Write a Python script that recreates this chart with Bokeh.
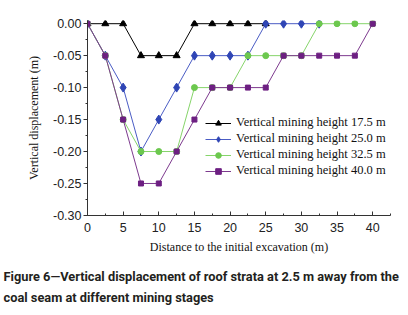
from bokeh.plotting import figure
from bokeh.models import (Legend, LegendItem, FixedTicker, NumeralTickFormatter,
                          Title, Range1d)
from bokeh.embed import file_html
from bokeh.resources import INLINE

# ---- data ----
x_all = [0, 2.5, 5, 7.5, 10, 12.5, 15, 17.5, 20, 22.5, 25, 27.5, 30, 32.5, 35, 37.5, 40]
h175 = [0, 0, 0, -0.05, -0.05, -0.05, 0, 0, 0, 0, 0]
h250 = [0, -0.05, -0.10, -0.20, -0.15, -0.10, -0.05, -0.05, -0.05, -0.05, 0, 0, 0, 0]
h325 = [0, -0.05, -0.15, -0.20, -0.20, -0.20, -0.10, -0.10, -0.10, -0.05, -0.05, -0.05, -0.05, 0, 0, 0, 0]
h400 = [0, -0.05, -0.15, -0.25, -0.25, -0.20, -0.15, -0.10, -0.10, -0.10, -0.10, -0.05, -0.05, -0.05, -0.05, -0.05, 0]
labels = ["Vertical mining height 17.5 m", "Vertical mining height 25.0 m",
          "Vertical mining height 32.5 m", "Vertical mining height 40.0 m"]
x_major = [0, 5, 10, 15, 20, 25, 30, 35, 40]
x_minor = [0, 2.5, 5, 7.5, 10, 12.5, 15, 17.5, 20, 22.5, 25, 27.5, 30, 32.5, 35, 37.5, 40, 42.5]
y_major = [-0.30, -0.25, -0.20, -0.15, -0.10, -0.05, 0.00]
y_minor = [-0.30, -0.275, -0.25, -0.225, -0.20, -0.175, -0.15, -0.125, -0.10, -0.075, -0.05, -0.025, 0.0]
caption = ["Figure 6\u2014Vertical displacement of roof strata at 2.5 m away from the",
           "coal seam at different mining stages"]

series = [h175, h250, h325, h400]
line_colors = ["#000000", "#4a5cc4", "#86d46a", "#7d3a8e"]
marker_colors = ["#000000", "#2f45b5", "#6cc84e", "#6d1f82"]
markers = ["triangle", "diamond", "circle", "square"]
msizes = [7, 9, 6, 5]

p = figure(width=408, height=315, output_backend="svg", toolbar_location=None,
           x_range=Range1d(0, 42.5), y_range=Range1d(-0.3001, 0.005),
           min_border_left=87, min_border_right=18, min_border_top=20, min_border_bottom=0)
p.background_fill_color = "white"
p.border_fill_color = "white"
p.outline_line_color = None
p.xgrid.visible = False
p.ygrid.visible = False

items = []
for ys, lc, mc, mk, ms, lab in zip(series, line_colors, marker_colors, markers, msizes, labels):
    xs = x_all[:len(ys)]
    r1 = p.line(xs, ys, line_color=lc, line_width=1)
    r2 = p.scatter(xs, ys, marker=mk, size=ms, fill_color=mc, line_color=mc)
    items.append(LegendItem(label=lab, renderers=[r1, r2]))

legend = Legend(items=items, location=(118, 37))
legend.border_line_color = None
legend.background_fill_alpha = 0
legend.padding = 0
legend.margin = 0
legend.spacing = 1
legend.glyph_width = 26
legend.glyph_height = 14
legend.label_height = 14
legend.label_standoff = 5
legend.label_text_font = "Liberation Serif"
legend.label_text_font_size = "12.5px"
legend.label_text_color = "#111111"
p.add_layout(legend, "center")

# axes
xa = p.xaxis[0]
xa.ticker = FixedTicker(ticks=x_major, minor_ticks=x_minor)
xa.major_tick_in = 4
xa.major_tick_out = 0
xa.minor_tick_in = 2
xa.minor_tick_out = 0
xa.major_label_standoff = 7
xa.major_label_text_font = "Liberation Sans"
xa.major_label_text_font_size = "12.5px"
xa.major_label_text_color = "#222222"
xa.axis_label = "Distance to the initial excavation (m)"
xa.axis_label_text_font = "Liberation Serif"
xa.axis_label_text_font_style = "normal"
xa.axis_label_text_font_size = "12px"
xa.axis_label_standoff = 5
xa.axis_label_text_color = "#111111"
xa.axis_line_color = "#333333"
xa.major_tick_line_color = "#333333"
xa.minor_tick_line_color = "#333333"

ya = p.yaxis[0]
ya.ticker = FixedTicker(ticks=y_major, minor_ticks=y_minor)
ya.formatter = NumeralTickFormatter(format="0.00")
ya.major_tick_in = 0
ya.major_tick_out = 4
ya.minor_tick_in = 0
ya.minor_tick_out = 2
ya.major_label_standoff = 2
ya.major_label_text_font = "Liberation Sans"
ya.major_label_text_font_size = "12.5px"
ya.major_label_text_color = "#222222"
ya.axis_label = "Vertical displacement (m)"
ya.axis_label_text_font = "Liberation Serif"
ya.axis_label_text_font_style = "normal"
ya.axis_label_text_font_size = "12px"
ya.axis_label_standoff = 9
ya.axis_label_text_color = "#111111"
ya.axis_line_color = "#333333"
ya.major_tick_line_color = "#333333"
ya.minor_tick_line_color = "#333333"

t = Title(text="\n".join(caption), align="left", offset=-84,
          text_font="Roboto", text_font_style="bold", text_line_height=1.4,
          text_font_size="12.8px", text_color="#231f20", standoff=21)
p.add_layout(t, "below")

open("out.html", "w").write(file_html(p, INLINE))
